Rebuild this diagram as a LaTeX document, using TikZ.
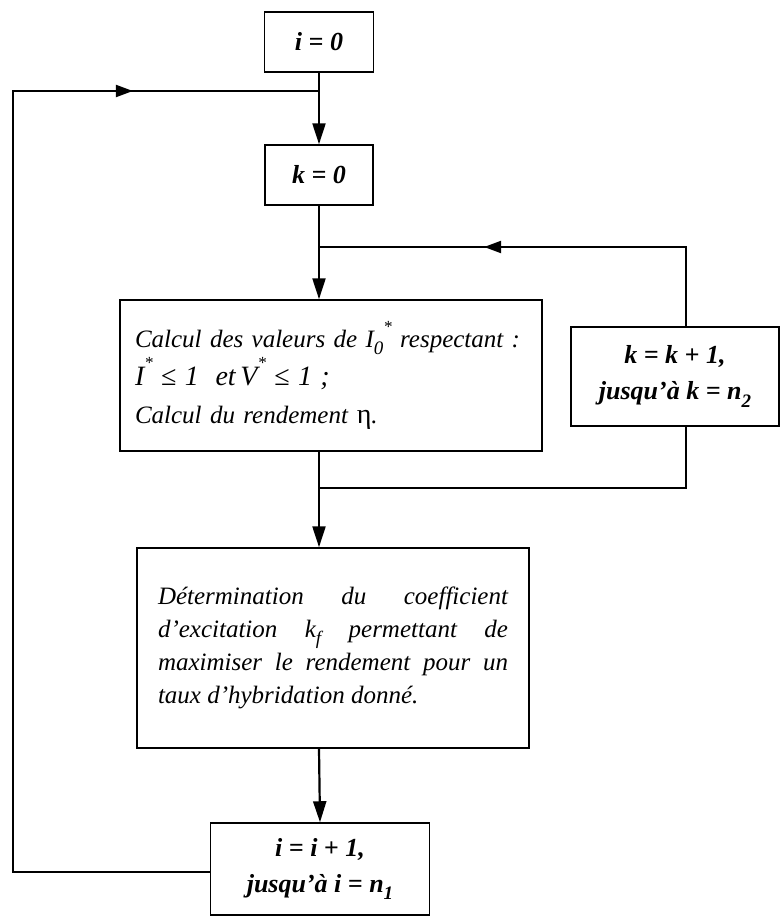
\documentclass[tikz,border=0pt]{standalone}
\usepackage{fontspec}
\setmainfont{Liberation Serif}
\usetikzlibrary{arrows.meta,decorations.markings}
\newcommand{\supstar}{\raisebox{0.62em}{\fontsize{17}{17}\selectfont *}}
\newcommand{\subtxt}[1]{\raisebox{-0.28em}{\fontsize{19}{19}\selectfont #1}}
\tikzset{
  box/.style={draw, line width=1.5pt, inner sep=0pt, align=center},
  bt/.style={font=\fontsize{26}{36}\selectfont\bfseries\itshape},
  conn/.style={line width=2.2pt},
  arr/.style={conn, -{Triangle[length=21pt,width=13pt]}},
  midarr/.style={postaction=decorate, decoration={markings, mark=at position #1 with {\arrow{Triangle[length=17pt,width=12pt]}}}},
}
\begin{document}
\begin{tikzpicture}[x=1pt,y=-1pt]
\fill[white] (0,0) rectangle (783,918);
\useasboundingbox (0,0) rectangle (783,918);
% boxes
\node[box, bt, minimum width=109, minimum height=60] (i0) at (319,42) {i = 0};
\node[box, bt, minimum width=108, minimum height=60] (k0) at (319,175) {k = 0};
\node[box, font=\fontsize{25}{38}\selectfont\itshape, text width=392, inner xsep=15, align=left, minimum height=151] (calc) at (331,375.5)
  {Calcul des valeurs de I\subtxt{0}\supstar{} respectant :\\
   {\fontsize{28}{38}\selectfont I\supstar{} \textup{≤} 1~ et\,V\supstar{} \textup{≤} 1 ;}\\
   Calcul du rendement {\fontsize{28}{38}\selectfont\textup{η}}.};
\node[box, bt, minimum width=208, minimum height=99] (kinc) at (675,376.5) {k = k + 1,\\ jusqu’à k = n\subtxt{2}};
\node[box, font=\fontsize{25}{33}\selectfont\itshape, text width=350, inner xsep=21, align=justify, minimum height=200] (det) at (333,648)
  {Détermination du coefficient\linebreak d’excitation k\subtxt{f} permettant de\linebreak maximiser le rendement pour un\linebreak taux d’hybridation donné.};
\node[box, bt, minimum width=219, minimum height=92] (iinc) at (320,869) {i = i + 1,\\ jusqu’à i = n\subtxt{1}};
% coordinates
\coordinate (ja) at (319,91);
\coordinate (Lt) at (13,91);
\coordinate (Lb) at (13,872);
\coordinate (kj) at (319,247);
\coordinate (R1) at (686,247);
\coordinate (R2) at (686,488);
\coordinate (kb) at (319,488);
% connectors
\draw[arr] (i0.south) -- (k0.north);
\draw[conn, midarr=0.855] (iinc.west |- Lb) -- (Lb) -- (Lt) -- (ja);
\draw[arr] (k0.south) -- (k0.south |- calc.north);
\draw[conn, midarr=0.63] (kinc.north -| R1) -- (R1) -- (kj);
\draw[conn] (kinc.south -| R1) -- (R2) -- (kb);
\draw[arr] (calc.south -| k0.south) -- (det.north -| k0.south);
\draw[arr] (det.south -| k0.south) -- (iinc.north);
\end{tikzpicture}
\end{document}
